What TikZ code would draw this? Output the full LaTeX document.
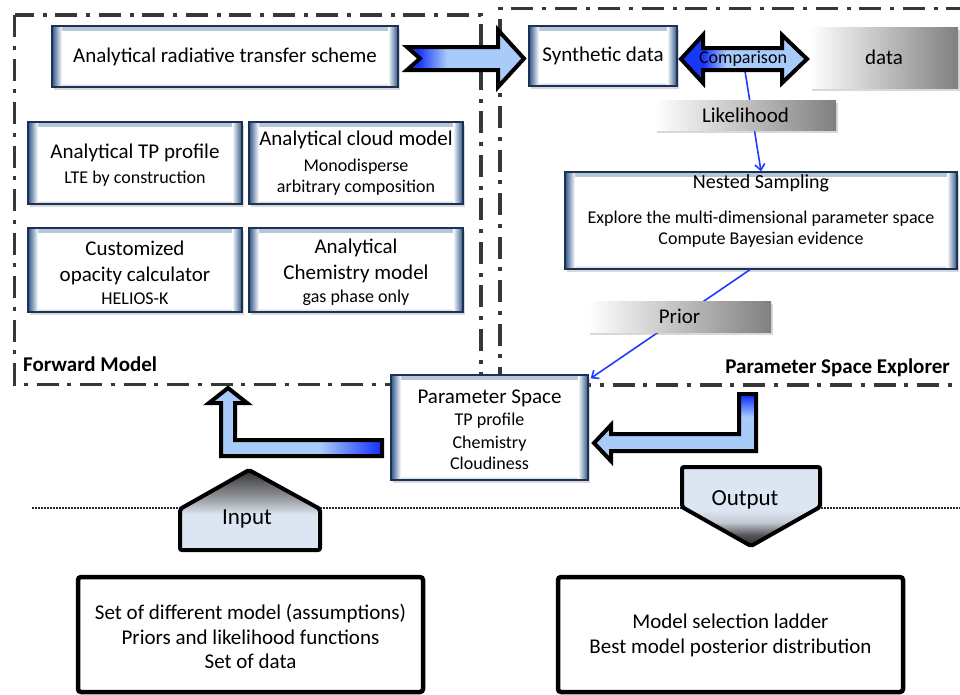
\documentclass[tikz,border=0pt]{standalone}
\usepackage{fontspec}
\setmainfont{Carlito}
\usetikzlibrary{arrows.meta,shadows}
\definecolor{bord}{RGB}{28,50,84}
\definecolor{edge}{RGB}{45,85,135}
\definecolor{adark}{RGB}{25,55,250}
\definecolor{alight}{RGB}{168,203,250}
\definecolor{pfill}{RGB}{220,230,242}
\definecolor{lgray}{RGB}{128,128,128}
\definecolor{framec}{RGB}{55,55,55}
\definecolor{bline}{RGB}{30,60,255}
\definecolor{pdark}{RGB}{42,42,42}
\definecolor{pdk}{RGB}{85,85,88}
\definecolor{pmid}{RGB}{140,143,148}
\definecolor{plite}{RGB}{195,201,210}
\pgfdeclarehorizontalshading{arrA}{100bp}{color(0bp)=(adark); color(30bp)=(adark); color(42bp)=(alight); color(100bp)=(alight)}
\pgfdeclarehorizontalshading{arrC}{100bp}{color(0bp)=(adark); color(34bp)=(adark); color(43bp)=(alight); color(100bp)=(alight)}
\pgfdeclarehorizontalshading{arrL}{100bp}{color(0bp)=(alight); color(57bp)=(alight); color(74bp)=(adark); color(100bp)=(adark)}
\pgfdeclareverticalshading{arrR}{100bp}{color(0bp)=(alight); color(58bp)=(alight); color(73bp)=(adark); color(100bp)=(adark)}
\pgfdeclareverticalshading{penIn}{100bp}{color(0bp)=(pfill); color(47bp)=(pfill); color(51bp)=(plite); color(59bp)=(pmid); color(69bp)=(pdk); color(75bp)=(pdark); color(100bp)=(pdark)}
\pgfdeclareverticalshading{penOut}{100bp}{color(0bp)=(pdark); color(25bp)=(pdark); color(32bp)=(pdk); color(40bp)=(plite); color(48bp)=(pfill); color(100bp)=(pfill)}
\newcommand\Lfont{\fontsize{21}{21}\selectfont}
\newcommand\Sfont{\fontsize{18}{21}\selectfont}
\newcommand\Ifont{\fontsize{23}{23}\selectfont}
\begin{document}
\begin{tikzpicture}[x=1pt,y=-1pt,
  frm/.style={draw=framec, line width=3.5pt, dash pattern=on 22pt off 8.5pt on 4pt off 9pt},
  fbox/.style={draw=bord, line width=1.3pt, fill=white,
    drop shadow={shadow xshift=2pt,shadow yshift=-2.5pt,opacity=0.3},
    path picture={
      \shade[top color=edge!35, bottom color=white] ([yshift=-4pt]path picture bounding box.north west) rectangle (path picture bounding box.north east);
      \shade[bottom color=edge!35, top color=white] (path picture bounding box.south west) rectangle ([yshift=4pt]path picture bounding box.south east);
      \shade[left color=edge, right color=white] (path picture bounding box.south west) rectangle ([xshift=10pt]path picture bounding box.north west);
      \shade[left color=white, right color=edge] ([xshift=-10pt]path picture bounding box.south east) rectangle (path picture bounding box.north east);
    }},
  lab/.style={left color=white, right color=lgray, inner sep=0pt,
    drop shadow={shadow xshift=2pt,shadow yshift=-2.5pt,opacity=0.3}},
  txt/.style={align=center, inner sep=0pt, font=\fontsize{18}{21}\selectfont},
  barrow/.style={draw=black, line width=4pt, line join=miter},
  conn/.style={draw=bline, line width=1.6pt, -{Straight Barb[length=6pt,width=10pt]}},
  bigbox/.style={draw=black, line width=4.5pt, rounded corners=3pt, fill=white},
  dotline/.style={draw=black!85, line width=1.8pt, dash pattern=on 1.6pt off 1.4pt},
  ]
\useasboundingbox (0,0) rectangle (960,694);
\fill[white] (0,0) rectangle (960,694);

% frames
\draw[frm] (14.5,15) rectangle (481,384.5);
\draw[frm] (968,8.5) -- (500,8.5) -- (500,385) -- (968,385);
\node[anchor=west, inner sep=0pt, font=\bfseries\fontsize{21}{21}\selectfont] (fml) at (23,364) {Forward Model};
\node[anchor=east, inner sep=0pt, font=\bfseries\fontsize{21}{21}\selectfont] (psel) at (950,368) {Parameter Space Explorer};

% dotted separator
\draw[dotline] (32,508) -- (960,508);

% forward model boxes
\node[fbox, minimum width=346pt, minimum height=61pt, font=\Lfont] (rad) at (225,56.5) {Analytical radiative transfer scheme};
\node[fbox, minimum width=214pt, minimum height=82pt] (tp) at (135,163) {};
\node[txt] (tpt) at (135,165.5) {\Lfont Analytical TP profile\\[4pt]\Sfont LTE by construction};
\node[fbox, minimum width=214pt, minimum height=82pt] (cl) at (356,163) {};
\node[txt] (clt) at (356,163.5) {\Lfont Analytical cloud model\\[5pt]\Sfont Monodisperse\\\Sfont arbitrary composition};
\node[fbox, minimum width=214pt, minimum height=84pt] (op) at (135,270) {};
\node[txt] (opt) at (135,272.5) {\Lfont Customized\\[5pt]\Lfont opacity calculator\\[2pt]\Sfont HELIOS-K};
\node[fbox, minimum width=214pt, minimum height=84pt] (ch) at (356,270) {};
\node[txt] (cht) at (356,272.5) {\Lfont Analytical\\[5pt]\Lfont Chemistry model\\[2pt]\Sfont gas phase only};

% explorer boxes
\node[fbox, minimum width=148pt, minimum height=60pt, font=\Lfont] (syn) at (603,56) {Synthetic data};
\node[lab, minimum width=148pt, minimum height=61pt, font=\Lfont] (dat) at (884,57.5) {data};
\node[fbox, minimum width=392pt, minimum height=97pt] (ns) at (761,220.5) {};
\node[txt] (nst) at (761,211) {\fontsize{20}{21}\selectfont Nested Sampling\\[14pt]\Sfont Explore the multi-dimensional parameter space\\\Sfont Compute Bayesian evidence};

% parameter space
\node[fbox, minimum width=197pt, minimum height=105pt] (ps) at (489.5,427.5) {};
\node[txt] (pst) at (489.5,430) {\Lfont Parameter Space\\[1pt]\Sfont TP profile\\[2pt]\Sfont Chemistry\\\Sfont Cloudiness};

% connector nested sampling -> parameter space
\draw[conn] ([xshift=-11pt]ns.south) -- ([xshift=2pt,yshift=-4pt]ps.north east);
\node[lab, minimum width=183pt, minimum height=31pt, font=\Lfont] (pri) at (679.5,316.5) {Prior};

% comparison -> nested sampling
\coordinate (cmpc) at (743,58.5);
\draw[conn] (cmpc) -- (ns.north);
\node[lab, minimum width=181pt, minimum height=30pt, font=\Lfont] (lik) at (745.5,115) {Likelihood};

% block arrows
\shadedraw[barrow, shading=arrA] (407,47) -- (420,58.5) -- (407,70) -- (498,70) -- (498,87) -- (524,58.5) -- (498,30) -- (498,47) -- cycle;
\shadedraw[barrow, shading=arrC] (681,59) -- (703,35) -- (703,48) -- (782,48) -- (782,35) -- (807,59) -- (782,83) -- (782,70) -- (703,70) -- (703,83) -- cycle;
\node[txt] (cmp) at (cmpc) {Comparison};
\shadedraw[barrow, shading=arrL] (228,388) -- (247,403) -- (235,403) -- (235,440) -- (382,440) -- (382,456) -- (221,456) -- (221,403) -- (209,403) -- cycle;
\shadedraw[barrow, shading=arrR] (739,394) -- (756,394) -- (756,451) -- (611,451) -- (611,461) -- (594,443) -- (611,425) -- (611,434) -- (739,434) -- cycle;

% input / output
\shadedraw[barrow, shading=penIn, rounded corners=2pt] (249,470) -- (320,509) -- (320,550) -- (180,550) -- (180,509) -- cycle;
\node[txt, font=\Ifont] (inp) at (247,519) {Input};
\shadedraw[barrow, shading=penOut, rounded corners=2pt] (682,467) -- (820,467) -- (820,507) -- (751,546) -- (682,507) -- cycle;
\node[txt, font=\Ifont] (outp) at (745,500) {Output};

% bottom boxes
\node[bigbox, minimum width=345pt, minimum height=115pt] (inb) at (250.5,634.5) {};
\node[txt, font=\fontsize{21}{24.5}\selectfont] (inbt) at (250.5,636.5) {Set of different model (assumptions)\\Priors and likelihood functions\\Set of data};
\node[bigbox, minimum width=345pt, minimum height=115pt] (outb) at (730.5,634.5) {};
\node[txt, font=\fontsize{21}{25}\selectfont] (outbt) at (730.5,635.5) {Model selection ladder\\Best model posterior distribution};
\end{tikzpicture}
\end{document}
